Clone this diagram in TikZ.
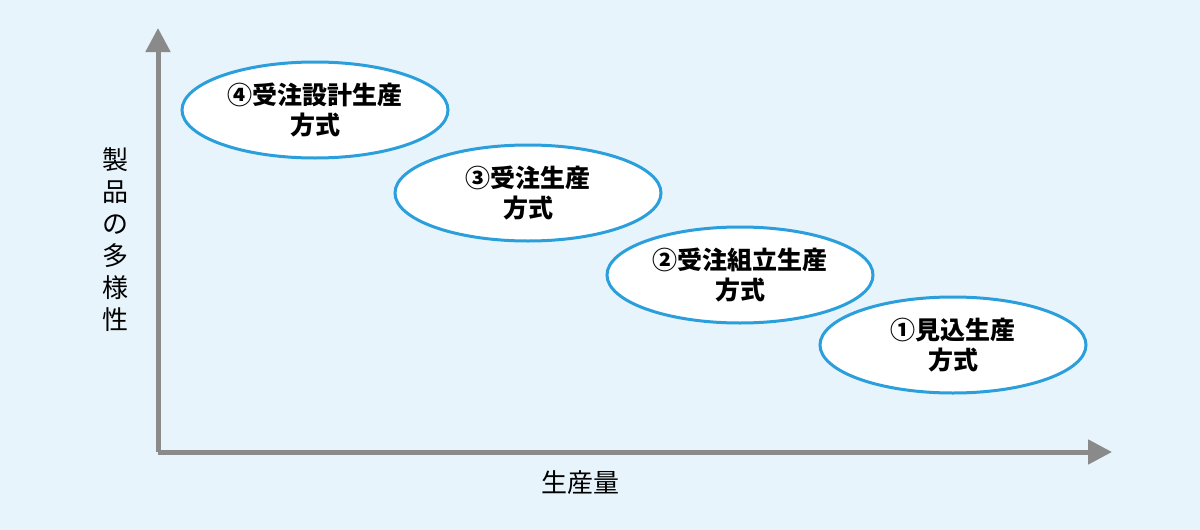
\documentclass[tikz,border=0pt]{standalone}
\usepackage{fontspec}
\setmainfont{Noto Sans CJK JP}
\usetikzlibrary{arrows.meta,shapes.geometric}
\definecolor{bg}{HTML}{E8F4FC}
\definecolor{ax}{HTML}{8A8A8A}
\definecolor{eb}{HTML}{2A9FDB}
\begin{document}
\begin{tikzpicture}[x=1pt,y=-1pt,
  method/.style={ellipse,draw=eb,line width=3pt,fill=white,minimum width=266pt,minimum height=96pt,align=center,font=\fontsize{25}{30}\selectfont\bfseries,inner sep=0pt},
  axis/.style={ax,line width=5pt,-{Triangle[length=24pt,width=24pt]}}]
\fill[bg] (0,0) rectangle (1200,530);
\useasboundingbox (0,0) rectangle (1200,530);
\coordinate (o) at (158,452);
\coordinate (ytop) at (158,28);
\coordinate (xend) at (1112,452);
\draw[axis] (o) -- (ytop);
\draw[axis] (o) -- (xend);
\node[method] (m4) at (315,110) {④受注設計生産\\方式};
\node[method] (m3) at (528,193) {③受注生産\\方式};
\node[method] (m2) at (740,275) {②受注組立生産\\方式};
\node[method] (m1) at (953,345) {①見込生産\\方式};
\node[font=\fontsize{26}{32}\selectfont,align=center] (yl) at (115,240) {製\\品\\の\\多\\様\\性};
\node[font=\fontsize{26}{28}\selectfont] (xl) at (580,483) {生産量};
\end{tikzpicture}
\end{document}
